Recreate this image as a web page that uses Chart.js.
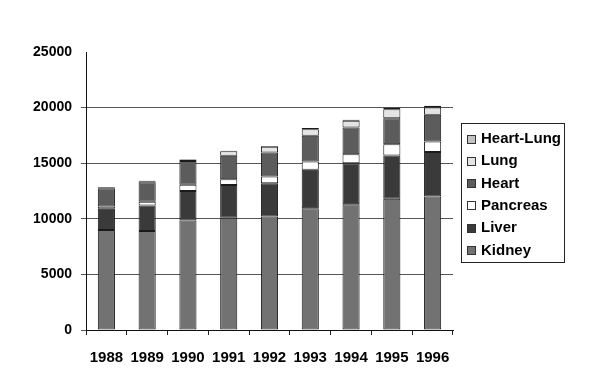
<!DOCTYPE html>
<html>
<head>
<meta charset="utf-8">
<script src="https://cdn.jsdelivr.net/npm/chart.js@4"></script>
<style>
  html, body { margin: 0; padding: 0; background: #ffffff; }
  #wrap { width: 600px; height: 390px; position: relative; }
</style>
</head>
<body>
<div id="wrap"><canvas id="c" width="600" height="390"></canvas></div>
<script>
const years = ['1988','1989','1990','1991','1992','1993','1994','1995','1996'];
const kidney    = [9000, 8900, 9850, 10100, 10200, 10950, 11300, 11800, 12000];
const liver     = [1900, 2300, 2650, 2950, 3000, 3450, 3700, 3900, 4000];
const pancreas  = [200, 330, 570, 510, 600, 760, 800, 1000, 960];
const heart     = [1650, 1750, 2130, 2120, 2170, 2310, 2400, 2350, 2400];
const lung      = [30, 90, 110, 400, 500, 590, 620, 800, 650];
const heartLung = [60, 60, 50, 50, 80, 100, 80, 130, 150];
const yTicks = [0, 5000, 10000, 15000, 20000, 25000];

const seriesNames = ['Kidney', 'Liver', 'Pancreas', 'Heart', 'Lung', 'Heart-Lung'];
const seriesData = [kidney, liver, pancreas, heart, lung, heartLung];
const seriesColors = ['#727272', '#3a3a3a', '#ffffff', '#5c5c5c', '#e4e4e4', '#c2c2c2'];

const datasets = seriesNames.map((n, i) => ({
  label: n,
  data: seriesData[i],
  backgroundColor: seriesColors[i],
  borderColor: '#1a1a1a',
  borderWidth: 1,
  borderSkipped: false,
  barPercentage: 0.42,
  categoryPercentage: 1.0
}));

const boxLegend = {
  id: 'boxLegend',
  afterDraw(chart) {
    const ctx = chart.ctx;
    const ca = chart.chartArea;
    const x0 = ca.right + 8, y0 = 123, w = 103, h = 139;
    ctx.save();
    ctx.strokeStyle = '#222';
    ctx.lineWidth = 1;
    ctx.strokeRect(x0 + 0.5, y0 + 0.5, w, h);
    ctx.font = 'bold 15px "Liberation Sans", Arial, sans-serif';
    ctx.textBaseline = 'middle';
    ctx.fillStyle = '#000';
    const ds = chart.data.datasets.slice().reverse();
    ds.forEach((d, i) => {
      const cy = 139 + i * 22.3;
      ctx.fillStyle = d.backgroundColor;
      ctx.fillRect(x0 + 6, Math.round(cy - 4.5), 9, 9);
      ctx.strokeStyle = '#333';
      ctx.strokeRect(x0 + 6.5, Math.round(cy - 4.5) + 0.5, 8, 8);
      ctx.fillStyle = '#000';
      ctx.fillText(d.label, x0 + 20, cy);
    });
    ctx.restore();
  }
};

new Chart(document.getElementById('c'), {
  type: 'bar',
  data: { labels: years, datasets },
  options: {
    responsive: false,
    animation: false,
    layout: { padding: { left: 30, right: 147, top: 52, bottom: 20 } },
    plugins: { legend: { display: false }, tooltip: { enabled: false } },
    scales: {
      x: {
        stacked: true,
        grid: { display: true, offset: true, drawOnChartArea: false, drawTicks: true, tickLength: 5, color: '#222' },
        border: { display: true, color: '#111', width: 1 },
        ticks: { color: '#000', padding: 14, font: { family: '"Liberation Sans", Arial, sans-serif', size: 15, weight: 'bold' } },
        afterFit(s) { s.height = 40; }
      },
      y: {
        stacked: true,
        min: 0, max: 25000,
        afterBuildTicks(s) { s.ticks = yTicks.map(v => ({ value: v })); },
        grid: {
          drawTicks: true, tickLength: 5,
          color: c => (c.tick && c.tick.value === 25000) ? 'rgba(0,0,0,0)' : '#555'
        },
        border: { display: true, color: '#111', width: 1 },
        ticks: {
          color: '#000', padding: 9,
          callback: v => String(v),
          font: { family: '"Liberation Sans", Arial, sans-serif', size: 14, weight: 'bold' }
        },
        afterFit(s) { s.width = 56; }
      }
    }
  },
  plugins: [boxLegend]
});
</script>
</body>
</html>
